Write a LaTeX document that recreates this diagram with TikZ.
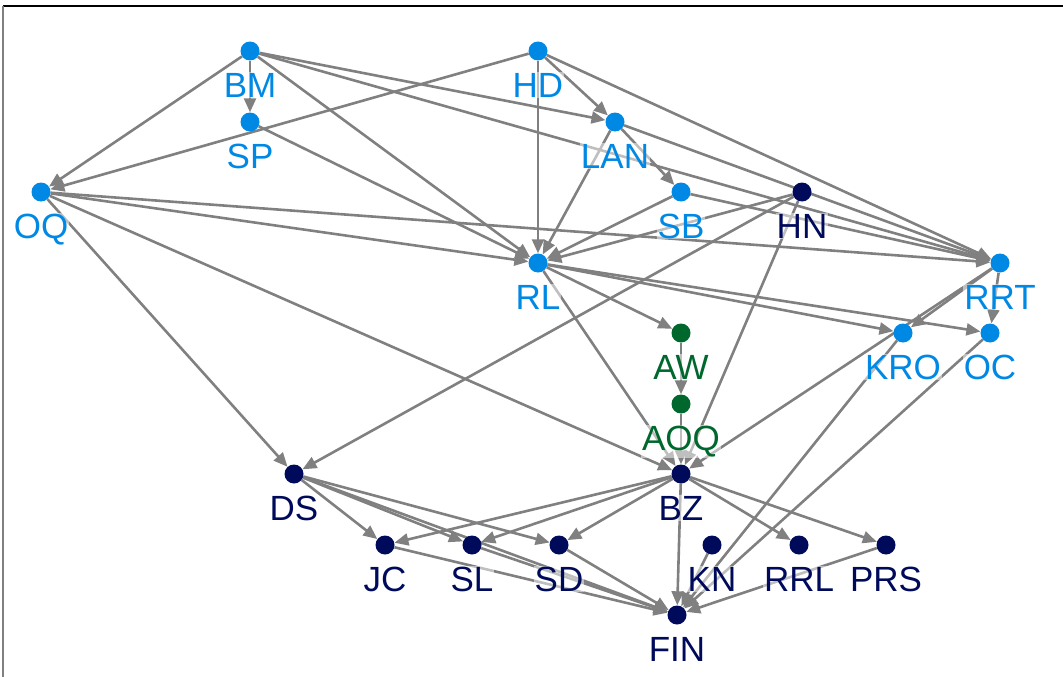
\documentclass[tikz,border=0pt]{standalone}
\usepackage{fontspec}
\setmainfont{Liberation Sans}
\usetikzlibrary{arrows.meta}
\definecolor{lblue}{RGB}{0,136,229}
\definecolor{navy}{RGB}{0,10,90}
\definecolor{dgreen}{RGB}{0,104,45}
\definecolor{egray}{RGB}{128,128,128}
\pgfdeclarelayer{bg}
\pgfsetlayers{bg,main}
\tikzset{
  dot/.style={circle, inner sep=0pt, minimum size=19pt, fill=#1, draw=none},
  lab/.style={text=#1, font=\fontsize{35}{35}\selectfont, anchor=base, inner sep=1pt, fill=white, fill opacity=0.5, text opacity=1},
  edge/.style={draw=egray, line width=2.6pt, -{Triangle[length=14pt,width=12pt]}},
}
\newcommand\gnode[4]{%
  \node[dot=#4] (#1) at (#2,#3) {};
  \node[lab=#4] (#1-l) at (#2,#3+46) {#1};
}
\begin{document}
\begin{tikzpicture}[x=1pt,y=-1pt]
\useasboundingbox (0,0) rectangle (1063,677);
\coordinate (tl) at (3,6);
\coordinate (tr) at (1063,6);
\coordinate (bl) at (3,677);
\draw[black, line width=1.3pt] (tl) -- (tr);
\draw[egray, line width=1.3pt] (tl) -- (bl);

\gnode{BM}{250}{51}{lblue}
\gnode{SP}{250}{122}{lblue}
\gnode{HD}{538}{51}{lblue}
\gnode{LAN}{615}{122}{lblue}
\gnode{OQ}{41}{192}{lblue}
\gnode{SB}{681}{192}{lblue}
\gnode{HN}{802}{192}{navy}
\gnode{RL}{538}{263}{lblue}
\gnode{RRT}{1000}{263}{lblue}
\gnode{AW}{681}{333}{dgreen}
\gnode{KRO}{903}{333}{lblue}
\gnode{OC}{990}{333}{lblue}
\gnode{AOQ}{681}{404}{dgreen}
\gnode{DS}{294}{474}{navy}
\gnode{BZ}{681}{474}{navy}
\gnode{JC}{385}{545}{navy}
\gnode{SL}{472}{545}{navy}
\gnode{SD}{559}{545}{navy}
\gnode{KN}{712}{545}{navy}
\gnode{RRL}{799}{545}{navy}
\gnode{PRS}{886}{545}{navy}
\gnode{FIN}{677}{615}{navy}

\begin{pgfonlayer}{bg}
\foreach \a/\b in {BM/SP, BM/OQ, BM/LAN, BM/RRT, BM/RL, SP/RL,
  HD/OQ, HD/LAN, HD/RL, HD/RRT,
  LAN/SB, LAN/RL, LAN/RRT, SB/RL, SB/RRT,
  HN/RL, HN/DS, HN/BZ,
  OQ/RL, OQ/RRT, OQ/DS, OQ/BZ,
  RL/AW, RL/KRO, RL/OC, RL/BZ,
  RRT/OC, RRT/KRO, RRT/BZ,
  AW/AOQ, AOQ/BZ, KRO/FIN, OC/FIN,
  DS/JC, DS/SL, DS/SD, DS/FIN,
  BZ/JC, BZ/SL, BZ/SD, BZ/FIN, BZ/RRL, BZ/PRS,
  JC/FIN, SL/FIN, SD/FIN, KN/FIN, PRS/FIN}
  \draw[edge] (\a) -- (\b);
\end{pgfonlayer}
\end{tikzpicture}
\end{document}
